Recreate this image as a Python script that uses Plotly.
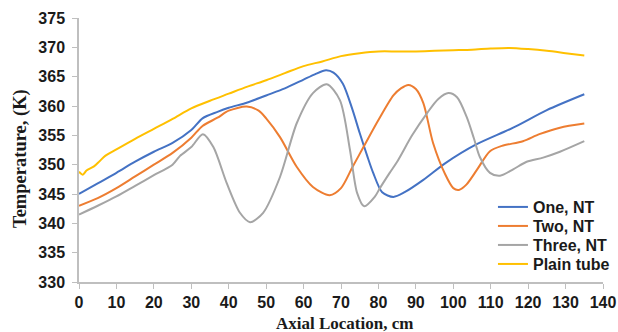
import plotly.graph_objects as go

# Axial positions (cm) and wall temperatures (K) for each tube configuration
x_plain = [0, 1, 2, 4, 5.5, 7, 10, 15, 20, 25, 30, 35, 40, 45, 50, 55, 60, 65, 70, 75, 80, 85, 90, 95, 100, 105, 110, 115, 120, 125, 130, 135]
t_plain = [348.8, 348.3, 349.0, 349.7, 350.6, 351.5, 352.6, 354.4, 356.1, 357.8, 359.6, 360.9, 362.1, 363.3, 364.4, 365.6, 366.8, 367.6, 368.5, 369.0, 369.3, 369.3, 369.3, 369.4, 369.5, 369.6, 369.8, 369.9, 369.7, 369.4, 369.0, 368.6]

x_one = [0, 5, 10, 15, 20, 25, 30, 33, 37, 40, 45, 50, 55, 60, 63, 66, 68, 70.5, 73, 75, 77, 78.6, 81, 84, 87, 92, 98, 106, 116, 125, 135]
t_one = [345.0, 346.8, 348.6, 350.5, 352.2, 353.7, 355.9, 357.9, 359.0, 359.7, 360.6, 361.8, 363.0, 364.5, 365.4, 366.1, 365.7, 363.8, 359.5, 355.4, 351.5, 348.6, 345.3, 344.5, 345.3, 347.4, 350.3, 353.4, 356.3, 359.3, 362.0]

x_two = [0, 5, 10, 15, 20, 25, 30, 33, 37, 40, 44.8, 48, 50, 53.7, 58.2, 62.5, 67, 70, 73, 76, 80, 84, 86, 88, 90, 92, 94.6, 97.8, 100, 101.5, 103.5, 106.3, 109.8, 113, 118.6, 123, 128.5, 135]
t_two = [343.0, 344.3, 346.0, 348.0, 350.0, 352.0, 354.6, 356.6, 358.0, 359.2, 359.9, 359.2, 357.9, 354.7, 349.6, 346.2, 344.8, 346.0, 349.5, 353.0, 357.6, 361.8, 363.0, 363.6, 362.9, 360.5, 353.7, 348.4, 346.0, 345.7, 346.6, 349.1, 352.3, 353.2, 354.0, 355.2, 356.3, 357.0]

x_three = [0, 5, 10, 15, 20, 25, 27, 30, 33.1, 35.9, 39.5, 43, 45.7, 49.2, 53.7, 58.2, 62.5, 66.2, 69.7, 72.4, 74.3, 76.2, 79, 80.4, 83, 85, 89, 93, 96, 98.7, 101, 103.6, 105.5, 107.1, 109.8, 112.5, 116, 119.6, 124, 128.5, 135]
t_three = [341.5, 343.0, 344.6, 346.4, 348.2, 350.0, 351.5, 353.0, 355.2, 353.0, 346.8, 341.8, 340.2, 341.8, 347.9, 357.1, 362.2, 363.7, 361.0, 352.5, 345.2, 342.9, 344.5, 346.0, 348.6, 350.5, 355.0, 358.8, 361.2, 362.2, 361.5, 358.1, 354.5, 351.3, 348.6, 348.1, 349.2, 350.5, 351.2, 352.2, 354.0]

x_ticks = list(range(0, 141, 10))
y_ticks = list(range(330, 376, 5))

series = [
    ("One, NT", x_one, t_one, "#4472C4"),
    ("Two, NT", x_two, t_two, "#ED7D31"),
    ("Three, NT", x_three, t_three, "#A5A5A5"),
    ("Plain tube", x_plain, t_plain, "#FFC000"),
]

sans = "Liberation Sans, Arial, sans-serif"
serif = "Liberation Serif, Times New Roman, serif"
tick_font = dict(family=sans, size=16, color="#1a1a1a", weight="bold")
legend_font = dict(family=sans, size=16, color="#1a1a1a", weight="bold")

# one small legend box per series so the rows can sit closely stacked
legend_ids = ["legend", "legend2", "legend3", "legend4"]
legend_y = [0.284, 0.212, 0.140, 0.068]

fig = go.Figure()
for (name, xs, ys, color), lid in zip(series, legend_ids):
    fig.add_trace(go.Scatter(
        x=xs, y=ys, name=name, mode="lines", legend=lid,
        line=dict(color=color, width=2, shape="spline", smoothing=0.8),
    ))

legends = {}
for lid, ly in zip(legend_ids, legend_y):
    legends[lid] = dict(
        x=0.79, y=ly, xanchor="left", yanchor="middle",
        bgcolor="rgba(0,0,0,0)", borderwidth=0,
        font=legend_font, itemwidth=30,
    )

fig.update_layout(
    width=618, height=332,
    margin=dict(l=79, r=15, t=18, b=50, autoexpand=False),
    paper_bgcolor="white", plot_bgcolor="white",
    showlegend=True,
    **legends,
    xaxis=dict(
        range=[0, 140], tickvals=x_ticks, showgrid=False, zeroline=False,
        showline=True, linecolor="#BFBFBF", linewidth=1.5,
        ticks="outside", ticklen=5, tickcolor="#BFBFBF",
        tickfont=tick_font,
    ),
    yaxis=dict(
        range=[330, 375], tickvals=y_ticks, showgrid=False, zeroline=False,
        showline=True, linecolor="#BFBFBF", linewidth=1.5,
        ticks="outside", ticklen=5, tickcolor="#BFBFBF",
        tickfont=tick_font, ticklabelstandoff=4,
    ),
    annotations=[
        dict(text="Axial Location, cm", xref="paper", yref="paper",
             x=(344 - 79) / 524, y=-(323 - 282) / 264,
             xanchor="center", yanchor="middle", showarrow=False,
             font=dict(family=serif, size=17, color="#1a1a1a", weight="bold")),
        dict(text="Temperature, (K)", xref="paper", yref="paper",
             x=-(79 - 20) / 524, y=(282 - 159) / 264, textangle=-90,
             xanchor="center", yanchor="middle", showarrow=False,
             font=dict(family=serif, size=18.5, color="#1a1a1a", weight="bold")),
    ],
)

fig.write_html("out.html")
